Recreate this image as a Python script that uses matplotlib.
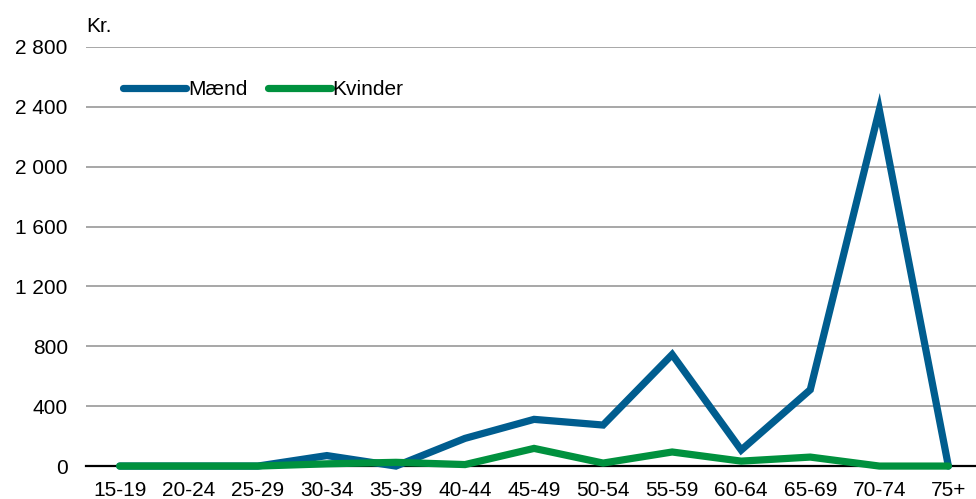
import numpy as np
import matplotlib.pyplot as plt

plt.rcParams["font.family"] = ["Liberation Sans", "DejaVu Sans"]

# data
aldersgrupper = ["15-19", "20-24", "25-29", "30-34", "35-39", "40-44", "45-49",
                 "50-54", "55-59", "60-64", "65-69", "70-74", "75+"]
maend = [0, 0, 0, 70, 0, 185, 312, 274, 745, 107, 510, 2380, 0]
kvinder = [0, 0, 0, 15, 25, 10, 118, 20, 94, 33, 60, 0, 0]
yticks = [0, 400, 800, 1200, 1600, 2000, 2400, 2800]

blaa = "#005D8F"
groen = "#00913E"

fig = plt.figure(figsize=(9.76, 4.99), dpi=100)
ax = fig.add_axes([0.088, 0.066, 0.912, 0.840])

x = np.arange(len(aldersgrupper))
ax.plot(x, maend, color=blaa, lw=5.2, solid_capstyle="round",
        solid_joinstyle="miter", label="Mænd", clip_on=False, zorder=3)
ax.plot(x, kvinder, color=groen, lw=5.2, solid_capstyle="round",
        solid_joinstyle="miter", label="Kvinder", clip_on=False, zorder=4)

ax.set_ylim(0, 2800)
ax.set_xlim(-0.49, 12.4)
ax.set_yticks(yticks)
ax.set_yticklabels([f"{v:,}".replace(",", " ") for v in yticks])
ax.set_xticks(x)
ax.set_xticklabels(aldersgrupper)
ax.tick_params(axis="both", length=0, labelsize=15)
ax.tick_params(axis="y", pad=13)
ax.tick_params(axis="x", pad=11)

ax.grid(axis="y", color="#A0A0A0", lw=1.3)
ax.set_axisbelow(True)
for s in ["top", "right", "left"]:
    ax.spines[s].set_visible(False)
ax.spines["bottom"].set_color("black")
ax.spines["bottom"].set_linewidth(1.6)
ax.spines["bottom"].set_zorder(2)

fig.text(0.088, 0.946, "Kr.", fontsize=15, ha="left", va="center")

leg = ax.legend(loc="upper left", bbox_to_anchor=(0.021, 0.965), ncol=2,
                frameon=False, fontsize=15, handlelength=3.0,
                handletextpad=0.1, columnspacing=1.0)

fig.savefig("out.png", dpi=100)
